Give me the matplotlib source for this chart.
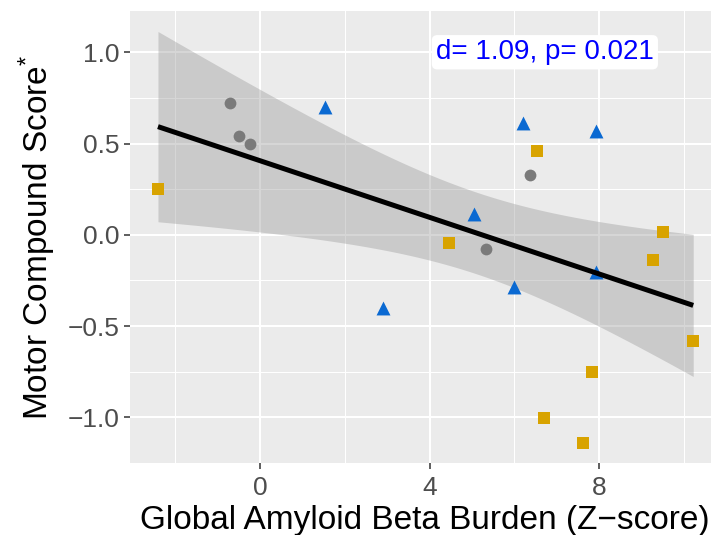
import numpy as np
import matplotlib
matplotlib.use("Agg")
import matplotlib.pyplot as plt
from matplotlib.ticker import FixedLocator, FuncFormatter

plt.rcParams["font.family"] = ["Liberation Sans", "DejaVu Sans"]
plt.rcParams["mathtext.fontset"] = "custom"
plt.rcParams["mathtext.rm"] = "Liberation Sans"
plt.rcParams["mathtext.it"] = "Liberation Sans:italic"

# Group 1 (gold squares)
sq_x = [-2.41, 4.46, 6.53, 9.27, 9.51, 10.22, 7.83, 6.71, 7.61]
sq_y = [0.249, -0.043, 0.459, -0.138, 0.017, -0.580, -0.752, -1.005, -1.141]
# Group 2 (grey circles)
ci_x = [-0.70, -0.50, -0.23, 6.38, 5.32]
ci_y = [0.721, 0.543, 0.498, 0.328, -0.078]
# Group 3 (blue triangles)
tr_x = [1.54, 6.20, 7.92, 5.04, 2.91, 5.98, 7.92]
tr_y = [0.702, 0.611, 0.570, 0.114, -0.403, -0.284, -0.202]

x_major = [0, 4, 8]
x_minor = [-2, 2, 6, 10]
y_major = [-1.0, -0.5, 0.0, 0.5, 1.0]
y_minor = [-0.75, -0.25, 0.25, 0.75]

stat_label = "d= 1.09, p= 0.021"

W, H = 711, 535
fig = plt.figure(figsize=(W / 100, H / 100), dpi=100)
ax = fig.add_axes([130 / W, 1 - 463 / H, (711 - 130) / W, (463 - 11) / H])
ax.set_facecolor("#EBEBEB")
for s in ax.spines.values():
    s.set_visible(False)

ax.set_xlim(-3.07, 10.64)
ax.set_ylim(-1.250, 1.226)

# grid
for v in x_minor:
    ax.axvline(v, color="white", lw=0.75, zorder=0.5)
for v in y_minor:
    ax.axhline(v, color="white", lw=0.75, zorder=0.5)
for v in x_major:
    ax.axvline(v, color="white", lw=1.5, zorder=0.6)
for v in y_major:
    ax.axhline(v, color="white", lw=1.5, zorder=0.6)

ax.xaxis.set_major_locator(FixedLocator(x_major))
ax.yaxis.set_major_locator(FixedLocator(y_major))
ax.xaxis.set_major_formatter(FuncFormatter(lambda v, p: f"{v:.0f}".replace("-", "\u2212")))
ax.yaxis.set_major_formatter(FuncFormatter(lambda v, p: f"{v:.1f}".replace("-", "\u2212")))
ax.tick_params(axis="both", length=4.3, width=1.1, color="#333333",
               labelcolor="#4D4D4D", labelsize=19, pad=3)
ax.tick_params(axis="x", pad=5)

# linear fit with 95% confidence band
xs = np.array(sq_x + ci_x + tr_x)
ys = np.array(sq_y + ci_y + tr_y)
n = len(xs)
slope, intercept = np.polyfit(xs, ys, 1)
resid = ys - (slope * xs + intercept)
s_err = np.sqrt(np.sum(resid ** 2) / (n - 2))
t_crit = 2.093  # t quantile 0.975, df = 19
xg = np.linspace(xs.min(), xs.max(), 200)
yg = slope * xg + intercept
se = s_err * np.sqrt(1 / n + (xg - xs.mean()) ** 2 / np.sum((xs - xs.mean()) ** 2))
ax.fill_between(xg, yg - t_crit * se, yg + t_crit * se, color="#999999",
                alpha=0.4, lw=0, zorder=2)

ax.scatter(sq_x, sq_y, marker="s", s=66, color="#D8A300", lw=0, zorder=3)
ax.scatter(ci_x, ci_y, marker="o", s=72, color="#7A7A7A", lw=0, zorder=3)
ax.scatter(tr_x, tr_y, marker="^", s=100, color="#0A69D2", lw=0, zorder=3)

ax.plot(xg, yg, color="black", lw=3.6, zorder=4, solid_capstyle="butt")

ax.text(6.72, 1.0, stat_label, color="#0000FF", fontsize=20, ha="center",
        va="center", zorder=5,
        bbox=dict(boxstyle="round,pad=0.15,rounding_size=0.2", fc="white", ec="none"))

fig.text(425 / W, 1 - 521 / H, "Global Amyloid Beta Burden (Z\u2212score)",
         fontsize=24, ha="center", va="center", color="black")
fig.text(37 / W, 1 - 237 / H, r"Motor Compound Score$^{*}$", fontsize=24,
         rotation=90, ha="center", va="center", color="black")

fig.savefig("out.png", dpi=100)
